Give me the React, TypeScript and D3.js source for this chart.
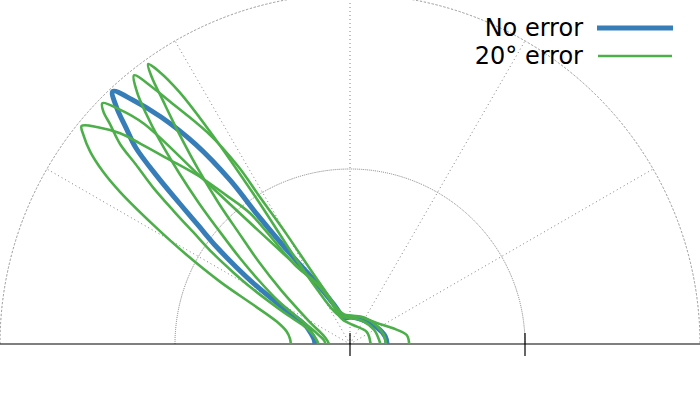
import React from "react";
import * as d3 from "d3";

// Polar beam patterns: [angle in degrees (0 = right, 180 = left), magnitude (outer ring = 1)]
const noError: [number, number][] = [
  [0, 0.106], [12, 0.103], [32, 0.09], [62, 0.078], [90, 0.077], [100, 0.076],
  [106, 0.085], [112, 0.12], [117, 0.17], [121, 0.24], [124, 0.33], [125.6, 0.45],
  [126.2, 0.58], [127.7, 0.72], [129.8, 0.845], [131.7, 0.935], [133.2, 0.99],
  [134.6, 0.95], [136, 0.89], [137.5, 0.83], [139, 0.73], [140.5, 0.63], [142, 0.55],
  [144, 0.47], [146, 0.39], [148, 0.32], [151, 0.23], [154, 0.17], [158, 0.135],
  [165, 0.115], [172, 0.104], [180, 0.1],
];

const error1: [number, number][] = [
  [0, 0.169], [9, 0.164], [20, 0.131], [38, 0.097], [70, 0.083], [100, 0.079],
  [112, 0.09], [118, 0.12], [121, 0.18], [122.5, 0.3], [122.7, 0.49], [123.4, 0.73],
  [124.1, 0.87], [125, 0.95], [125.8, 0.986], [126.6, 0.95], [127.5, 0.88], [129, 0.78],
  [131, 0.66], [133, 0.55], [135, 0.45], [138, 0.35], [142, 0.25], [147, 0.17],
  [153, 0.12], [162, 0.08], [172, 0.065], [180, 0.06],
];

const error2: [number, number][] = [
  [0, 0.103], [15, 0.1], [35, 0.092], [65, 0.085], [100, 0.085], [108, 0.1],
  [114, 0.15], [118, 0.24], [120, 0.36], [121.5, 0.49], [122.2, 0.6], [124, 0.73],
  [126.6, 0.863], [127.6, 0.926], [128.8, 0.985], [130.2, 0.943], [131.5, 0.88],
  [133, 0.8], [135, 0.69], [137, 0.59], [139, 0.5], [142, 0.4], [145, 0.32],
  [149, 0.24], [153, 0.17], [158, 0.12], [165, 0.09], [172, 0.075], [180, 0.07],
];

const error3: [number, number][] = [
  [0, 0.087], [30, 0.08], [60, 0.075], [90, 0.075], [105, 0.08], [112, 0.11],
  [115.7, 0.165], [123.7, 0.258], [128.8, 0.41], [131.8, 0.644],
  [133.1, 0.863], [134.5, 0.94], [135.8, 0.987], [136.7, 0.968], [137.5, 0.93],
  [139, 0.87], [140, 0.8], [141.5, 0.72], [143, 0.63], [144.5, 0.55], [146.5, 0.47],
  [148.5, 0.39], [150.5, 0.32], [153.5, 0.23], [156.5, 0.17], [160, 0.13],
  [166, 0.108], [173, 0.096], [180, 0.09],
];

const error4: [number, number][] = [
  [0, 0.059], [36, 0.059], [81, 0.055], [105, 0.07], [111, 0.085], [114.4, 0.137],
  [119, 0.2], [124.8, 0.274], [127.4, 0.47], [129.7, 0.55], [131.9, 0.642],
  [134.6, 0.746], [136.3, 0.829], [137.5, 0.891], [139.3, 0.95], [140.9, 0.988],
  [141.9, 0.968], [143.5, 0.923], [145.1, 0.86], [146.5, 0.789], [148.8, 0.657],
  [151.4, 0.531], [154.4, 0.411], [158, 0.297], [163, 0.219], [169, 0.184],
  [175, 0.172], [180, 0.169],
];

const errorSeries = [error1, error2, error3, error4];
const gridRadii = [0.5, 1];
const spokeAngles = [30, 60, 90, 120, 150];
const rTicks = [0, 0.5];
const legendLabels = ["No error", "20° error"];

const W = 700;
const H = 400;
const cx = 350;
const cy = 344;
const BLUE = "#377eb8";
const GREEN = "#4daf4a";

export default function App() {
  const r = d3.scaleLinear().domain([0, 1]).range([0, 350]);
  const toRad = (deg: number) => (deg * Math.PI) / 180;

  const line = d3
    .lineRadial<[number, number]>()
    .angle((d) => Math.PI / 2 - toRad(d[0]))
    .radius((d) => r(d[1]))
    .curve(d3.curveCatmullRom.alpha(0.5));

  const arc = d3
    .arc<number>()
    .innerRadius((d) => r(d))
    .outerRadius((d) => r(d))
    .startAngle(-Math.PI / 2)
    .endAngle(Math.PI / 2);

  const gridStyle = {
    fill: "none",
    stroke: "#808080",
    strokeWidth: 1,
    strokeDasharray: "1,3",
  };

  return (
    <svg
      width={W}
      height={H}
      style={{ position: "absolute", left: 0, top: 0, background: "#fff" }}
      fontFamily="DejaVu Sans, sans-serif"
    >
      <g transform={`translate(${cx},${cy})`}>
        {gridRadii.map((g) => (
          <path key={`c${g}`} d={arc(g) || ""} {...gridStyle} />
        ))}
        {spokeAngles.map((a) => (
          <line
            key={`s${a}`}
            x1={0}
            y1={0}
            x2={r(1) * Math.cos(toRad(a))}
            y2={-r(1) * Math.sin(toRad(a))}
            {...gridStyle}
          />
        ))}
        <line x1={-cx} x2={W - cx} y1={0} y2={0} stroke="#000" strokeWidth={1.2} />
        {rTicks.map((t) => (
          <line key={`t${t}`} x1={r(t)} x2={r(t)} y1={-11} y2={12} stroke="#000" strokeWidth={1.2} />
        ))}
        <path d={line(noError) || ""} fill="none" stroke={BLUE} strokeWidth={5} strokeLinejoin="round" />
        {errorSeries.map((s, i) => (
          <path key={`e${i}`} d={line(s) || ""} fill="none" stroke={GREEN} strokeWidth={2.6} strokeLinejoin="round" />
        ))}
      </g>
      <g fontSize={24} textAnchor="end">
        <text x={583} y={36}>{legendLabels[0]}</text>
        <text x={583} y={64}>{legendLabels[1]}</text>
        <line x1={597} x2={673} y1={28} y2={28} stroke={BLUE} strokeWidth={5} />
        <line x1={598} x2={672} y1={56} y2={56} stroke={GREEN} strokeWidth={2.6} />
      </g>
    </svg>
  );
}
